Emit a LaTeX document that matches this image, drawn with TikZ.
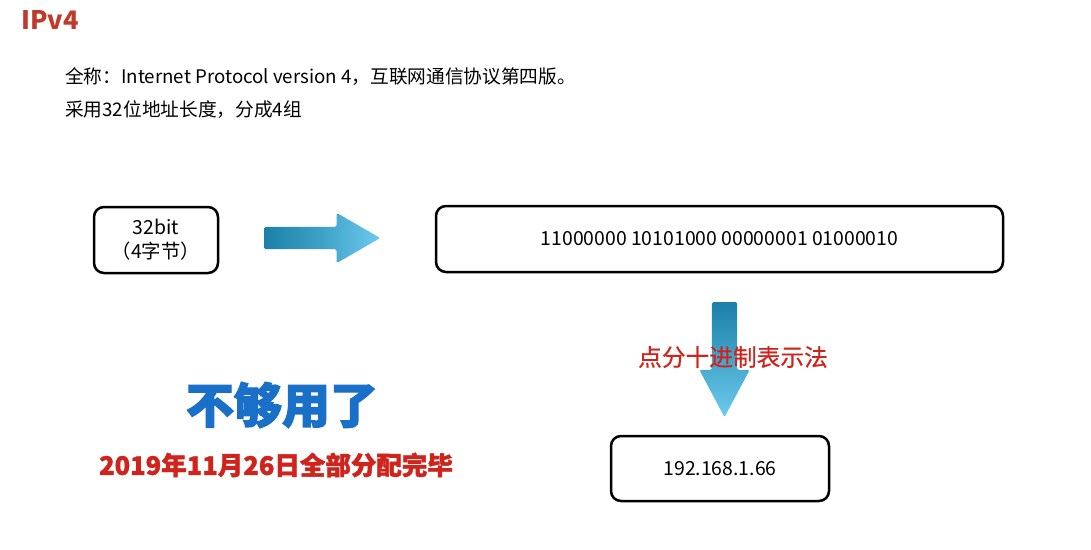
\documentclass[tikz,border=0pt]{standalone}
\usepackage{fontspec}
\setmainfont{Noto Sans CJK SC}
\usetikzlibrary{shapes.arrows}
\definecolor{titlered}{HTML}{C0392B}
\definecolor{notered}{HTML}{D0231B}
\definecolor{bigblue}{HTML}{1A6FC8}
\definecolor{arrdark}{HTML}{1B80A8}
\definecolor{arrlight}{HTML}{6CCBEE}
\tikzset{
  box/.style={draw=black, line width=2.5pt, rounded corners=10pt, align=center, font=\fontsize{19.4}{24}\selectfont},
  blockarrow/.style={single arrow, inner sep=0pt, draw=none, rounded corners=1.5pt, anchor=tail},
  plain/.style={anchor=west, inner sep=0pt, font=\fontsize{18.7}{18.7}\selectfont}
}
\begin{document}
\begin{tikzpicture}[x=1pt,y=-1pt]
\useasboundingbox (0,0) rectangle (1091,549);
\node[anchor=base west, inner sep=0pt, font=\fontsize{25.5}{25.5}\selectfont\bfseries, text=titlered] (title) at (21,29) {IPv4};
\node[plain] (l1) at (65,77) {全称：Internet Protocol version 4，互联网通信协议第四版。};
\node[plain] (l2) at (65,110) {采用32位地址长度，分成4组};

\node[box, minimum width=124pt, minimum height=66pt] (b1) at (156,240) {32bit\\（4字节）};
\node[box, minimum width=567pt, minimum height=66pt] (b2) at (719.5,239) {11000000 10101000 00000001 01000010};
\node[box, minimum width=218pt, minimum height=65pt] (b3) at (720,468.5) {192.168.1.66};

\node[blockarrow, minimum height=116pt, minimum width=50pt, text height=22pt, single arrow tip angle=60, single arrow head extend=14pt, left color=arrdark, right color=arrlight, middle color=arrdark!55!arrlight] (ar) at (264,238) {};
\node[blockarrow, shape border rotate=270, minimum height=115pt, minimum width=50pt, text width=25pt, single arrow tip angle=56, single arrow head extend=12.5pt, top color=arrdark, bottom color=arrlight] (ad) at (724.5,302) {};

\node[inner sep=0pt, font=\fontsize{23.7}{23.7}\selectfont\addfontfeature{FakeBold=0.6}, text=notered] (dot) at (733,357) {点分十进制表示法};
\node[inner sep=0pt, font=\fontsize{48}{48}\selectfont\bfseries\addfontfeature{FakeBold=2.5}, text=bigblue] (big) at (282,405) {不够用了};
\node[inner sep=0pt, font=\fontsize{25.5}{25.5}\selectfont\bfseries\addfontfeature{FakeBold=1.5}, text=notered] (date) at (276,465) {2019年11月26日全部分配完毕};
\end{tikzpicture}
\end{document}
